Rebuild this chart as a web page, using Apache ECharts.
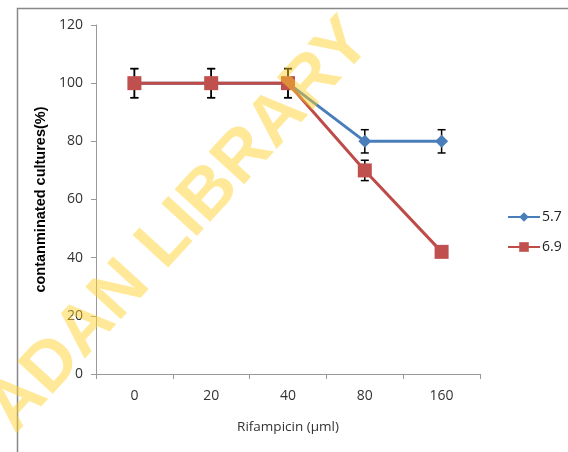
<!DOCTYPE html>
<html>
<head>
<meta charset="utf-8">
<script src="https://cdn.jsdelivr.net/npm/echarts@6/dist/echarts.min.js"></script>
<style>html,body{margin:0;padding:0;background:#fff;}#c{width:568px;height:452px;}</style>
</head>
<body>
<div id="c"></div>
<script>
const categories = ['0', '20', '40', '80', '160'];
const ph57 = [100, 100, 100, 80, 80];
const ph69 = [100, 100, 100, 70, 42];
const err57 = [5, 5, 5, 4, 4];
const err69 = [5, 5, 5, 3.5, 0];
const yTicks = [0, 20, 40, 60, 80, 100, 120];

const chart = echarts.init(document.getElementById('c'), null, {renderer: 'canvas'});

function errData(vals, errs) {
  return vals.map((v, i) => [i, v, errs[i]]);
}
function renderErr(params, api) {
  const i = api.value(0), v = api.value(1), e = api.value(2);
  if (!e) return null;
  const top = api.coord([i, v + e]);
  const bot = api.coord([i, v - e]);
  const w = 4;
  const st = {stroke: '#000', lineWidth: 1.5};
  return {
    type: 'group',
    children: [
      {type: 'line', shape: {x1: top[0], y1: top[1], x2: bot[0], y2: bot[1]}, style: st},
      {type: 'line', shape: {x1: top[0] - w, y1: top[1], x2: top[0] + w, y2: top[1]}, style: st},
      {type: 'line', shape: {x1: bot[0] - w, y1: bot[1], x2: bot[0] + w, y2: bot[1]}, style: st}
    ]
  };
}

const font = 'Open Sans';
chart.setOption({
  animation: false,
  backgroundColor: '#fff',
  grid: {left: 96, top: 25, right: 88, bottom: 78},
  legend: {
    orient: 'vertical', left: 502, top: 205, itemGap: 16, itemWidth: 32, itemHeight: 12,
    textStyle: {fontFamily: font, fontSize: 14, color: '#222', padding: [0, 0, 0, -3]},
    data: ['5.7', '6.9']
  },
  xAxis: {
    type: 'category', data: categories, boundaryGap: true,
    name: 'Rifampicin (\u00b5ml)', nameLocation: 'middle', nameGap: 46,
    nameTextStyle: {fontFamily: font, fontSize: 13.5, color: '#333'},
    axisLine: {lineStyle: {color: '#999', width: 1}},
    axisTick: {show: true, length: 5, lineStyle: {color: '#999'}},
    axisLabel: {fontFamily: font, fontSize: 14, color: '#333', margin: 15}
  },
  yAxis: {
    type: 'value', min: 0, max: 120, interval: 20,
    name: 'contanminated cultures(%)', nameLocation: 'middle', nameGap: 46,
    nameTextStyle: {fontFamily: 'Liberation Sans', fontWeight: 'bold', fontSize: 14.5, color: '#000'},
    axisLine: {show: true, lineStyle: {color: '#999', width: 1}},
    axisTick: {show: true, length: 5, lineStyle: {color: '#999'}},
    splitLine: {show: false},
    axisLabel: {fontFamily: font, fontSize: 14, color: '#333', margin: 13,
      formatter: v => yTicks.includes(v) ? String(v) : ''}
  },
  series: [
    {type: 'custom', name: 'err57', renderItem: renderErr, data: errData(ph57, err57), z: 1, silent: true},
    {type: 'custom', name: 'err69', renderItem: renderErr, data: errData(ph69, err69), z: 1, silent: true},
    {
      name: '5.7', type: 'line', data: ph57, z: 3,
      symbol: 'diamond', symbolSize: 13,
      lineStyle: {color: '#4A7EBB', width: 3},
      itemStyle: {color: '#4A7EBB'}
    },
    {
      name: '6.9', type: 'line', data: ph69, z: 4,
      symbol: 'rect', symbolSize: 14,
      lineStyle: {color: '#BE4B48', width: 3},
      itemStyle: {color: '#C0504D'}
    }
  ],
  graphic: [
    {type: 'rect', left: 15, top: 6, shape: {x: 0, y: 0, width: 600, height: 500},
     style: {fill: 'none', stroke: '#888', lineWidth: 1.5}, z: 0, silent: true},
    {type: 'text', x: 180, y: 226, rotation: 0.83, z: 100, silent: true,
     style: {text: 'ADAN LIBRARY', fontFamily: 'Liberation Sans', fontWeight: 'bold', fontSize: 70,
       fill: 'rgba(255,210,40,0.48)', align: 'center', verticalAlign: 'middle'}}
  ]
});
</script>
</body>
</html>
